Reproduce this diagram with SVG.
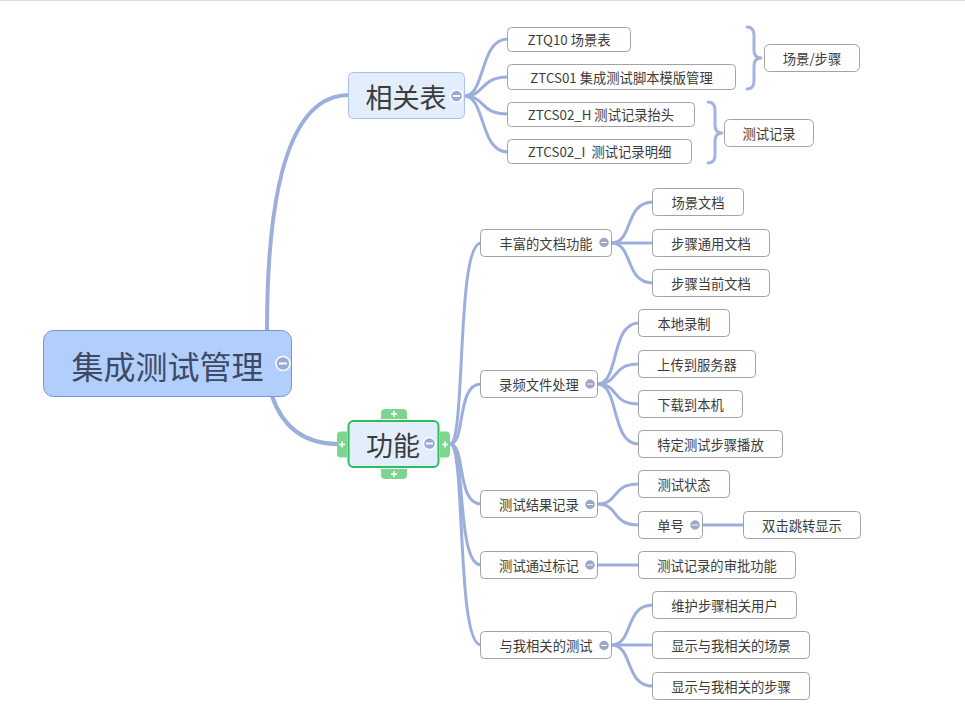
<svg xmlns="http://www.w3.org/2000/svg" width="965" height="708" viewBox="0 0 965 708">
<style>
  text { font-family: "Noto Sans CJK SC", "Noto Sans", sans-serif; fill: #3c3c3c; text-anchor: middle; dominant-baseline: central; }
  .sub rect { fill: #ffffff; stroke: #a3a3a3; stroke-width: 1; }
  .sub text { font-size: 13.3px; white-space: pre; }
  .conn path { fill: none; stroke: #9cafdc; stroke-width: 3; stroke-linecap: round; }
  .conn .main { stroke-width: 4; }
  .brace { fill: none; stroke: #a2b4e0; stroke-width: 3; stroke-linecap: round; stroke-linejoin: round; }
  .btn circle { fill: #98a9d6; stroke: #ffffff; stroke-width: 1.5; }
  .btn rect { fill: #ffffff; }
  .tab path { fill: #7dd58f; }
  .tab line { stroke: #ffffff; stroke-width: 1.6; }
</style>
<line x1="0" y1="0.5" x2="965" y2="0.5" stroke="#d8d8e0" stroke-width="1"/>

<g id="connectors" class="conn">
  <path class="main" d="M267,331 C267,180 292,95 349,95"/>
  <path class="main" d="M272,396 C283,428 305,444 338,444"/>
  <!-- 相关表 children -->
  <path d="M464,96 C486,96 479,39 508,39"/>
  <path d="M464,96 C486,96 479,77 508,77"/>
  <path d="M464,96 C486,96 479,114 508,114"/>
  <path d="M464,96 C486,96 479,152 508,152"/>
  <!-- 功能 children -->
  <path d="M450,444 C466,444 456,243 481,243"/>
  <path d="M450,444 C466,444 456,384 481,384"/>
  <path d="M450,444 C466,444 456,504 481,504"/>
  <path d="M450,444 C466,444 456,565 481,565"/>
  <path d="M450,444 C466,444 456,645 481,645"/>
  <!-- 丰富的文档功能 -->
  <path d="M611,243 C634,243 624,202 653,202"/>
  <path d="M611,243 L653,243"/>
  <path d="M611,243 C634,243 624,283 653,283"/>
  <!-- 录频文件处理 -->
  <path d="M597,384 C620,384 610,323 639,323"/>
  <path d="M597,384 C620,384 610,364 639,364"/>
  <path d="M597,384 C620,384 610,404 639,404"/>
  <path d="M597,384 C620,384 610,444 639,444"/>
  <!-- 测试结果记录 -->
  <path d="M597,504 C620,504 610,484 639,484"/>
  <path d="M597,504 C620,504 610,525 639,525"/>
  <path d="M702,525 L744,525"/>
  <!-- 测试通过标记 -->
  <path d="M597,565 L639,565"/>
  <!-- 与我相关的测试 -->
  <path d="M611,645 C634,645 624,605 653,605"/>
  <path d="M611,645 L653,645"/>
  <path d="M611,645 C634,645 624,686 653,686"/>
</g>

<path class="brace" d="M747,27 Q754,27 754,35 L754,50 Q754,58 761,58 Q754,58 754,66 L754,81 Q754,89 747,89"/>
<path class="brace" d="M708,102 Q715,102 715,110 L715,125 Q715,133 722,133 Q715,133 715,141 L715,155 Q715,163 708,163"/>

<g id="root">
  <rect x="43.5" y="330.5" width="248" height="66" rx="10" fill="#b2cffc" stroke="#6e97e0" stroke-width="1"/>
  <text x="167.5" y="365" font-size="32" style="fill:#3e4966">集成测试管理</text>
  <g class="btn"><circle cx="283" cy="363.5" r="7"/><rect x="279" y="362.5" width="8" height="2"/></g>
</g>

<g id="node-xiangguanbiao">
  <rect x="348.5" y="72.5" width="116" height="46" rx="5" fill="#e3eefd" stroke="#a9c1ec" stroke-width="1"/>
  <text x="406" y="96" font-size="27">相关表</text>
  <g class="btn"><circle cx="456.5" cy="96" r="6"/><rect x="453" y="95" width="7" height="2"/></g>
</g>

<g id="node-gongneng">
  <g class="tab">
    <path d="M381,419 V413 Q381,409 385,409 H403 Q407,409 407,413 V419 Z"/>
    <line x1="391" y1="414" x2="397" y2="414"/><line x1="394" y1="411" x2="394" y2="417"/>
    <path d="M381,469 V475 Q381,479 385,479 H403 Q407,479 407,475 V469 Z"/>
    <line x1="391" y1="474" x2="397" y2="474"/><line x1="394" y1="471" x2="394" y2="477"/>
    <path d="M347,431.5 H341 Q337,431.5 337,435.5 V453.5 Q337,457.5 341,457.5 H347 Z"/>
    <line x1="339" y1="444.5" x2="345" y2="444.5"/><line x1="342" y1="441.5" x2="342" y2="447.5"/>
    <path d="M440,431.5 H446 Q450,431.5 450,435.5 V453.5 Q450,457.5 446,457.5 H440 Z"/>
    <line x1="442" y1="444.5" x2="448" y2="444.5"/><line x1="445" y1="441.5" x2="445" y2="447.5"/>
  </g>
  <rect x="348.5" y="421" width="90" height="46" rx="5" fill="#e3eefd" stroke="#2fbd5b" stroke-width="2"/>
  <text x="393" y="444" font-size="27">功能</text>
  <g class="btn"><circle cx="429.5" cy="443.5" r="6"/><rect x="426" y="442.5" width="7" height="2"/></g>
</g>

<g id="n-ztq10" class="sub"><rect x="507.5" y="27.5" width="123" height="24" rx="4"/><text x="569" y="39.5">ZTQ10 场景表</text></g>
<g id="n-ztcs01" class="sub"><rect x="507.5" y="64.5" width="228" height="25" rx="4"/><text x="621.5" y="77">ZTCS01 集成测试脚本模版管理</text></g>
<g id="n-ztcs02h" class="sub"><rect x="507.5" y="102.5" width="187" height="24" rx="4"/><text x="601" y="114.5">ZTCS02_H 测试记录抬头</text></g>
<g id="n-ztcs02i" class="sub"><rect x="507.5" y="139.5" width="184" height="24" rx="4"/><text x="599.5" y="151.5">ZTCS02_I  测试记录明细</text></g>
<g id="n-cjbz" class="sub"><rect x="764.5" y="44.5" width="95" height="27" rx="5"/><text x="812" y="58">场景/步骤</text></g>
<g id="n-csjl" class="sub"><rect x="724.5" y="119.5" width="89" height="27" rx="5"/><text x="769" y="133">测试记录</text></g>

<g id="n-ffwd" class="sub"><rect x="480.5" y="229.5" width="131" height="27" rx="4"/><text x="546" y="243">丰富的文档功能</text>
  <g class="btn"><circle cx="604" cy="242.5" r="5.5"/><rect x="600.5" y="241.5" width="7" height="2"/></g></g>
<g id="n-cjwd" class="sub"><rect x="652.5" y="188.5" width="91" height="27" rx="4"/><text x="698" y="202">场景文档</text></g>
<g id="n-bzty" class="sub"><rect x="652.5" y="229.5" width="117" height="27" rx="4"/><text x="711" y="243">步骤通用文档</text></g>
<g id="n-bzdq" class="sub"><rect x="652.5" y="269.5" width="117" height="27" rx="4"/><text x="711" y="283">步骤当前文档</text></g>

<g id="n-lpwj" class="sub"><rect x="480.5" y="370.5" width="117" height="27" rx="4"/><text x="539" y="384">录频文件处理</text>
  <g class="btn"><circle cx="590" cy="384" r="5.5"/><rect x="586.5" y="383" width="7" height="2"/></g></g>
<g id="n-bdlz" class="sub"><rect x="638.5" y="309.5" width="91" height="27" rx="4"/><text x="684" y="323">本地录制</text></g>
<g id="n-scfwq" class="sub"><rect x="638.5" y="350.5" width="117" height="27" rx="4"/><text x="697" y="364">上传到服务器</text></g>
<g id="n-xzbj" class="sub"><rect x="638.5" y="390.5" width="104" height="27" rx="4"/><text x="690.5" y="404">下载到本机</text></g>
<g id="n-tdbf" class="sub"><rect x="638.5" y="430.5" width="144" height="27" rx="4"/><text x="710.5" y="444">特定测试步骤播放</text></g>

<g id="n-csjg" class="sub"><rect x="480.5" y="490.5" width="117" height="27" rx="4"/><text x="539" y="504">测试结果记录</text>
  <g class="btn"><circle cx="590" cy="504.5" r="5.5"/><rect x="586.5" y="503.5" width="7" height="2"/></g></g>
<g id="n-cszt" class="sub"><rect x="638.5" y="470.5" width="91" height="27" rx="4"/><text x="684" y="484">测试状态</text></g>
<g id="n-dh" class="sub"><rect x="638.5" y="511.5" width="64" height="27" rx="4"/><text x="670.5" y="525">单号</text>
  <g class="btn"><circle cx="695" cy="525" r="5.5"/><rect x="691.5" y="524" width="7" height="2"/></g></g>
<g id="n-sjtz" class="sub"><rect x="743.5" y="511.5" width="117" height="27" rx="4"/><text x="802" y="525">双击跳转显示</text></g>

<g id="n-cstg" class="sub"><rect x="480.5" y="551.5" width="117" height="27" rx="4"/><text x="539" y="565">测试通过标记</text>
  <g class="btn"><circle cx="590" cy="565" r="5.5"/><rect x="586.5" y="564" width="7" height="2"/></g></g>
<g id="n-spgn" class="sub"><rect x="638.5" y="551.5" width="157" height="27" rx="4"/><text x="717" y="565">测试记录的审批功能</text></g>

<g id="n-ywxg" class="sub"><rect x="480.5" y="631.5" width="131" height="27" rx="4"/><text x="546" y="645">与我相关的测试</text>
  <g class="btn"><circle cx="604" cy="645.5" r="5.5"/><rect x="600.5" y="644.5" width="7" height="2"/></g></g>
<g id="n-whyh" class="sub"><rect x="652.5" y="591.5" width="144" height="27" rx="4"/><text x="724.5" y="605">维护步骤相关用户</text></g>
<g id="n-xscj" class="sub"><rect x="652.5" y="631.5" width="157" height="27" rx="4"/><text x="731" y="645">显示与我相关的场景</text></g>
<g id="n-xsbz" class="sub"><rect x="652.5" y="672.5" width="157" height="27" rx="4"/><text x="731" y="686">显示与我相关的步骤</text></g>
</svg>
